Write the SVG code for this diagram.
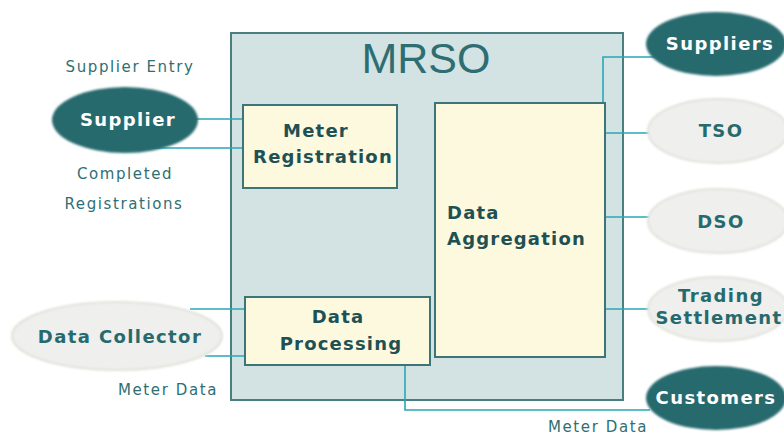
<svg xmlns="http://www.w3.org/2000/svg" width="784" height="436" viewBox="0 0 784 436">
  <style>
    .box { fill: #fcf9de; stroke: #3d7478; stroke-width: 2; }
    .frame { fill: #d3e3e3; stroke: #4a7f82; stroke-width: 2; }
    .dark { fill: #276a6e; }
    .light { fill: #efefed; stroke: #e1e1da; stroke-width: 2; }
    .conn { fill: none; stroke: #2aa7b5; stroke-width: 1.6; }
    .lbl { font-family: "DejaVu Sans", Verdana, sans-serif; font-size: 15px; letter-spacing: 1.6px; fill: #2f6f73; text-anchor: middle; }
    .bx { font-family: "DejaVu Sans", Verdana, sans-serif; font-weight: bold; font-size: 18px; letter-spacing: 1.2px; fill: #1f5054; }
    .nd { font-family: "DejaVu Sans", Verdana, sans-serif; font-weight: bold; font-size: 18px; letter-spacing: 1.4px; text-anchor: middle; }
  </style>
  <defs>
    <filter id="soft" x="-10%" y="-20%" width="120%" height="140%">
      <feGaussianBlur stdDeviation="0.8"/>
    </filter>
  </defs>

  <rect width="784" height="436" fill="#ffffff"/>

  <!-- MRSO frame -->
  <g id="mrso">
    <rect class="frame" x="231" y="33" width="392" height="367"/>
    <text x="426" y="73" text-anchor="middle" font-family="Liberation Sans, Arial, sans-serif" font-size="43" fill="#2e6e72">MRSO</text>
  </g>

  <!-- connectors -->
  <g id="connectors">
    <path class="conn" d="M196 119 H243"/>
    <path class="conn" d="M152 148 H243"/>
    <path class="conn" d="M190 309 H245"/>
    <path class="conn" d="M205 356 H245"/>
    <path class="conn" d="M655 57 H603 V103"/>
    <path class="conn" d="M605 133 H650"/>
    <path class="conn" d="M605 217 H650"/>
    <path class="conn" d="M605 309 H650"/>
    <path class="conn" d="M405 365 V410 H650"/>
  </g>

  <g id="meter-registration">
    <rect class="box" x="243" y="105" width="154" height="83"/>
    <text class="bx" x="316" y="137" text-anchor="middle">Meter</text>
    <text class="bx" x="323" y="163" text-anchor="middle">Registration</text>
  </g>

  <g id="data-aggregation">
    <rect class="box" x="435" y="103" width="170" height="254"/>
    <text class="bx" x="447" y="219">Data</text>
    <text class="bx" x="447" y="245">Aggregation</text>
  </g>

  <g id="data-processing">
    <rect class="box" x="245" y="297" width="185" height="68"/>
    <text class="bx" x="338" y="323" text-anchor="middle">Data</text>
    <text class="bx" x="341" y="350" text-anchor="middle">Processing</text>
  </g>

  <g id="supplier">
    <ellipse class="dark" cx="125" cy="120" rx="73" ry="33" filter="url(#soft)"/>
    <text class="nd" x="128" y="126" fill="#ffffff">Supplier</text>
  </g>

  <g id="data-collector">
    <ellipse class="light" cx="117" cy="336" rx="105" ry="34" filter="url(#soft)"/>
    <text class="nd" x="120" y="343" fill="#276a6e" font-size="20">Data Collector</text>
  </g>

  <g id="suppliers">
    <ellipse class="dark" cx="716" cy="44" rx="70" ry="32" filter="url(#soft)"/>
    <text class="nd" x="720" y="50" fill="#ffffff">Suppliers</text>
  </g>

  <g id="tso">
    <ellipse class="light" cx="718" cy="131" rx="70" ry="32" filter="url(#soft)"/>
    <text class="nd" x="721" y="137" fill="#276a6e" font-size="19">TSO</text>
  </g>

  <g id="dso">
    <ellipse class="light" cx="718" cy="221" rx="70" ry="32" filter="url(#soft)"/>
    <text class="nd" x="721" y="228" fill="#276a6e" font-size="19">DSO</text>
  </g>

  <g id="trading-settlement">
    <ellipse class="light" cx="718" cy="309" rx="70" ry="32" filter="url(#soft)"/>
    <text class="nd" x="721" y="302" fill="#276a6e" font-size="16.5" letter-spacing="0.9">Trading</text>
    <text class="nd" x="719" y="324" fill="#276a6e" font-size="16.5" letter-spacing="0.9">Settlement</text>
  </g>

  <g id="customers">
    <ellipse class="dark" cx="716" cy="398" rx="70" ry="32" filter="url(#soft)"/>
    <text class="nd" x="716" y="404" fill="#ffffff">Customers</text>
  </g>

  <!-- flow labels -->
  <g id="labels">
    <text class="lbl" x="130" y="72">Supplier Entry</text>
    <text class="lbl" x="125" y="179">Completed</text>
    <text class="lbl" x="124" y="209">Registrations</text>
    <text class="lbl" x="168" y="395">Meter Data</text>
    <text class="lbl" x="598" y="432">Meter Data</text>
  </g>
</svg>
